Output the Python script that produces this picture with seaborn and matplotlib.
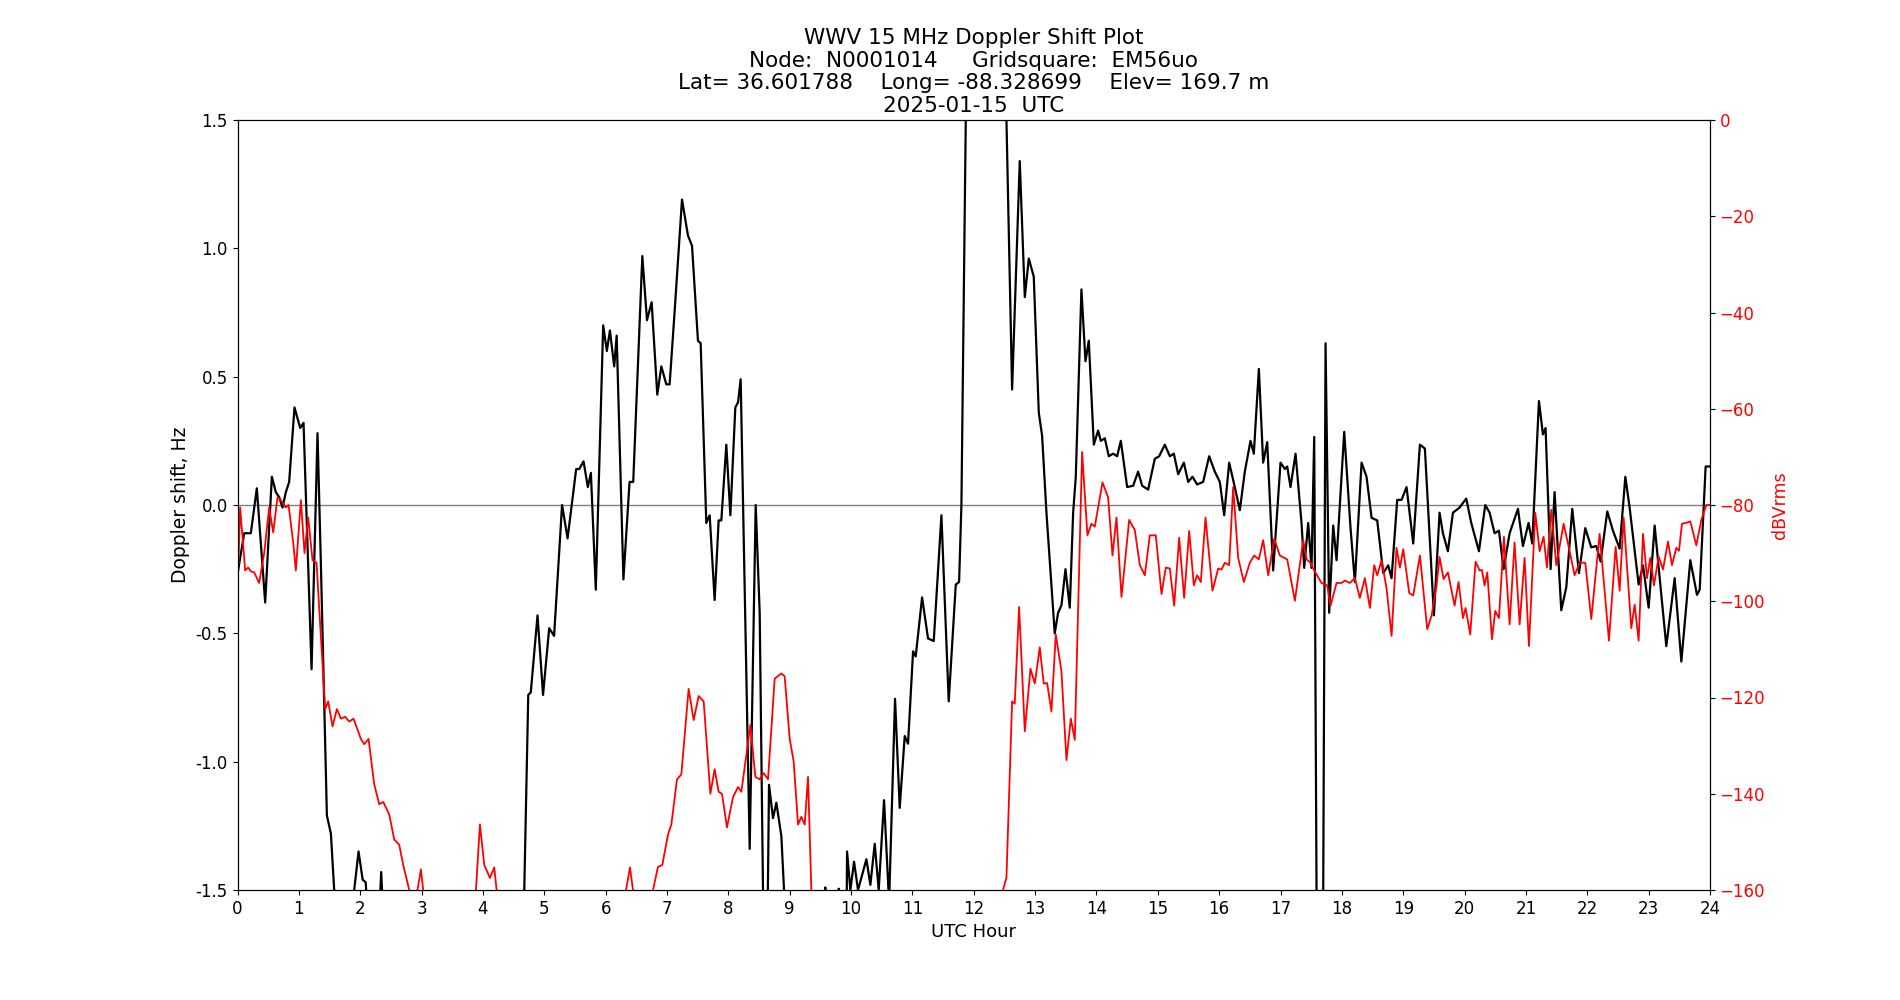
import matplotlib
matplotlib.use("Agg")
import matplotlib.pyplot as plt
import seaborn as sns
import numpy as np

# ---- Doppler shift (Hz) vs UTC hour ----
doppler_hours = [
    0.0, 0.109, 0.217, 0.315, 0.451, 0.56, 0.625, 0.68, 0.734, 0.788, 0.842, 0.929, 1.022, 1.076,
    1.207, 1.304, 1.359, 1.457, 1.522, 1.576, 1.65, 1.85, 1.902, 1.973, 2.04, 2.09, 2.12, 2.2,
    2.31, 2.342, 2.375, 2.45, 4.6, 4.674, 4.739, 4.78, 4.89, 4.98, 5.08, 5.16, 5.29, 5.38, 5.52,
    5.57, 5.64, 5.71, 5.76, 5.84, 5.96, 6.02, 6.07, 6.14, 6.18, 6.29, 6.39, 6.45, 6.598, 6.674,
    6.75, 6.842, 6.908, 6.989, 7.043, 7.125, 7.245, 7.342, 7.408, 7.505, 7.549, 7.641, 7.696,
    7.777, 7.842, 7.886, 7.967, 8.033, 8.114, 8.158, 8.201, 8.348, 8.446, 8.511, 8.565, 8.61,
    8.64, 8.663, 8.728, 8.783, 8.864, 8.908, 8.95, 9.55, 9.58, 9.61, 9.77, 9.8, 9.83, 9.9, 9.935,
    9.989, 10.049, 10.114, 10.25, 10.315, 10.386, 10.451, 10.538, 10.62, 10.717, 10.793, 10.875,
    10.929, 11.011, 11.054, 11.158, 11.255, 11.348, 11.473, 11.592, 11.707, 11.761, 11.799, 11.87,
    11.95, 12.45, 12.533, 12.625, 12.75, 12.832, 12.897, 12.978, 13.06, 13.114, 13.185, 13.32,
    13.375, 13.43, 13.495, 13.565, 13.62, 13.663, 13.755, 13.821, 13.875, 13.957, 14.027, 14.071,
    14.136, 14.201, 14.272, 14.337, 14.397, 14.5, 14.598, 14.679, 14.745, 14.842, 14.951, 15.022,
    15.114, 15.196, 15.261, 15.332, 15.424, 15.495, 15.565, 15.641, 15.739, 15.837, 15.929, 16.011,
    16.082, 16.163, 16.245, 16.337, 16.418, 16.511, 16.565, 16.647, 16.717, 16.783, 16.88, 17.0,
    17.07, 17.109, 17.163, 17.245, 17.342, 17.386, 17.451, 17.505, 17.549, 17.587, 17.62, 17.68,
    17.696, 17.734, 17.793, 17.859, 17.913, 18.038, 18.141, 18.212, 18.321, 18.402, 18.484, 18.576,
    18.674, 18.755, 18.81, 18.902, 18.973, 19.054, 19.163, 19.272, 19.353, 19.5, 19.592, 19.647,
    19.728, 19.81, 19.918, 20.027, 20.109, 20.234, 20.337, 20.408, 20.489, 20.56, 20.636, 20.734,
    20.87, 20.951, 21.043, 21.103, 21.212, 21.277, 21.32, 21.402, 21.467, 21.576, 21.658, 21.755,
    21.864, 21.967, 22.065, 22.147, 22.217, 22.326, 22.418, 22.527, 22.62, 22.69, 22.837, 22.908,
    23.0, 23.098, 23.18, 23.288, 23.424, 23.533, 23.679, 23.788, 23.832, 23.929, 24.0,
]
doppler_hz = [
    -0.27, -0.11, -0.11, 0.065, -0.38, 0.11, 0.05, 0.03, -0.01, 0.05, 0.09, 0.38, 0.30, 0.32,
    -0.64, 0.28, -0.23, -1.21, -1.28, -1.5, -2.5, -2.5, -1.5, -1.35, -1.46, -1.47, -1.6, -2.5,
    -1.6, -1.43, -1.6, -2.5, -2.5, -1.5, -0.74, -0.73, -0.43, -0.74, -0.48, -0.51, 0.0, -0.13, 0.14,
    0.14, 0.17, 0.07, 0.125, -0.33, 0.70, 0.60, 0.68, 0.54, 0.66, -0.29, 0.09, 0.09, 0.97, 0.72,
    0.79, 0.43, 0.54, 0.47, 0.47, 0.755, 1.19, 1.05, 1.01, 0.64, 0.63, -0.07, -0.04,
    -0.37, -0.06, -0.06, 0.235, -0.04, 0.38, 0.40, 0.49, -1.34, 0.0, -0.42, -1.5, -2.5,
    -1.6, -1.09, -1.22, -1.16, -1.29, -1.5, -2.5, -2.5, -1.49, -2.5, -2.5, -1.495, -2.5, -2.5, -1.35,
    -1.5, -1.39, -1.5, -1.38, -1.48, -1.32, -1.5, -1.15, -1.55, -0.755, -1.18, -0.90,
    -0.93, -0.57, -0.59, -0.36, -0.52, -0.53, -0.04, -0.765, -0.31, -0.30, 0.0, 1.5,
    2.5, 2.5, 1.5, 0.45, 1.34, 0.81, 0.96, 0.89, 0.36, 0.27, -0.03, -0.5,
    -0.42, -0.39, -0.25, -0.40, -0.03, 0.11, 0.84, 0.56, 0.64, 0.235, 0.29, 0.25,
    0.26, 0.19, 0.2, 0.19, 0.25, 0.07, 0.075, 0.13, 0.075, 0.06, 0.18, 0.19,
    0.235, 0.19, 0.20, 0.12, 0.165, 0.09, 0.11, 0.08, 0.09, 0.19, 0.13, 0.09,
    -0.04, 0.165, 0.08, -0.02, 0.13, 0.25, 0.2, 0.53, 0.165, 0.245, -0.255, 0.165,
    0.14, 0.15, 0.07, 0.2, -0.07, -0.245, -0.07, -0.245, 0.265, -1.5, -2.5, -2.5,
    -1.5, 0.63, -0.42, -0.08, -0.215, 0.285, -0.09, -0.30, 0.165, 0.11, -0.05, -0.06,
    -0.265, -0.235, -0.285, 0.02, 0.02, 0.07, -0.15, 0.235, 0.22, -0.43, -0.03, -0.11,
    -0.18, -0.03, -0.01, 0.025, -0.07, -0.18, 0.0, -0.03, -0.11, -0.1, -0.25, -0.11,
    -0.015, -0.16, -0.07, -0.15, 0.405, 0.275, 0.30, -0.25, 0.05, -0.41, -0.32, -0.015,
    -0.265, -0.09, -0.165, -0.16, -0.22, -0.025, -0.1, -0.17, 0.11, -0.01, -0.31, -0.235,
    -0.40, -0.08, -0.285, -0.55, -0.285, -0.61, -0.215, -0.35, -0.33, 0.15, 0.15,
]

# ---- Signal level (dBVrms) vs UTC hour ----
signal_hours = [
    0.016, 0.043, 0.125, 0.174, 0.217, 0.272, 0.353, 0.435, 0.516, 0.582, 0.652, 0.707, 0.788,
    0.832, 0.908, 0.951, 1.033, 1.092, 1.152, 1.223, 1.288, 1.429, 1.478, 1.549, 1.62, 1.685,
    1.755, 1.821, 1.891, 2.011, 2.065, 2.136, 2.228, 2.31, 2.375, 2.473, 2.554, 2.636, 2.701,
    2.799, 2.908, 2.989, 3.043, 3.15, 3.8, 3.886, 3.951, 4.022, 4.114, 4.185, 4.239, 4.33, 6.25,
    6.332, 6.397, 6.467, 6.55, 6.7, 6.772, 6.853, 6.924, 7.016, 7.071, 7.163, 7.234, 7.353, 7.435,
    7.516, 7.598, 7.707, 7.777, 7.842, 7.897, 7.978, 8.076, 8.158, 8.212, 8.359, 8.44, 8.511,
    8.576, 8.647, 8.755, 8.864, 8.918, 9.0, 9.065, 9.136, 9.19, 9.245, 9.299, 9.353, 9.4, 12.4,
    12.478, 12.533, 12.625, 12.668, 12.739, 12.832, 12.924, 12.995, 13.076, 13.141, 13.196, 13.266,
    13.337, 13.429, 13.511, 13.582, 13.647, 13.766, 13.853, 13.918, 13.973, 14.098, 14.19, 14.261,
    14.326, 14.408, 14.533, 14.625, 14.707, 14.788, 14.87, 14.967, 15.06, 15.13, 15.196, 15.266,
    15.348, 15.429, 15.511, 15.587, 15.641, 15.701, 15.777, 15.891, 15.984, 16.038, 16.092, 16.163,
    16.228, 16.31, 16.402, 16.5, 16.571, 16.647, 16.717, 16.799, 16.897, 16.989, 17.109, 17.234,
    17.37, 17.424, 17.489, 17.549, 17.668, 17.761, 17.815, 17.913, 17.995, 18.049, 18.13, 18.212,
    18.293, 18.375, 18.457, 18.527, 18.576, 18.647, 18.728, 18.81, 18.891, 18.946, 19.0, 19.098,
    19.163, 19.272, 19.391, 19.462, 19.543, 19.592, 19.658, 19.728, 19.837, 19.902, 19.973, 20.016,
    20.092, 20.179, 20.245, 20.283, 20.326, 20.37, 20.446, 20.5, 20.56, 20.641, 20.734, 20.815,
    20.897, 20.978, 21.049, 21.152, 21.223, 21.288, 21.342, 21.413, 21.495, 21.614, 21.685, 21.793,
    21.875, 21.967, 22.065, 22.201, 22.353, 22.462, 22.527, 22.592, 22.717, 22.772, 22.837, 22.908,
    22.973, 23.027, 23.087, 23.163, 23.234, 23.315, 23.38, 23.451, 23.495, 23.543, 23.614, 23.679,
    23.777, 23.859, 23.94, 24.0,
]
signal_dbv = [
    -92, -80.5, -93.6, -93, -93.8, -94, -96.2, -90, -80.5, -85.7, -78.4, -79, -80.5,
    -80, -87.8, -93.6, -79, -90, -82.6, -91.5, -92, -122.4, -120.8, -126, -122.4, -124.4,
    -124, -125, -124.4, -128.6, -129.7, -128.6, -138, -142.2, -141.7, -144.3, -149.5, -150.6, -154.8,
    -160, -162, -155.7, -162, -170, -170, -160, -146.4, -154.8, -157.5, -155.3, -162, -170, -170,
    -160, -155.3, -162, -170, -170, -160, -155.2, -154.8, -148.5, -146.4, -137, -136, -118.2, -124.7,
    -119.7, -120.8, -140, -134.9, -139.6, -140, -147, -140.7, -138.6, -139.6, -125.7, -136.5, -137,
    -135.7, -137, -116.1, -115, -115.6, -128.6, -133.3, -146.4, -144.8, -146.4, -136.5, -160, -170, -170,
    -160, -157.4, -120.8, -121.3, -101.2, -127, -114, -117.1, -109.6, -117.1, -117, -122.9,
    -106.9, -114.5, -133, -124.4, -128.8, -69, -86.3, -83.9, -84.5, -75.3, -78.4, -90.5,
    -82.6, -99.1, -83.1, -85.2, -92.5, -94.6, -86.3, -86.3, -98.5, -93, -93.2, -100.9,
    -86.8, -99.3, -85.4, -96.7, -94.6, -96, -82.6, -97.8, -93.2, -93.4, -92, -92.5,
    -76.3, -91, -96, -92, -90.5, -91.3, -87.3, -94.6, -87, -90.5, -91.3, -99.9,
    -87.3, -91.3, -92, -93.6, -96.2, -96.7, -100.9, -96.2, -96.2, -95.7, -96.2, -95.2,
    -99.3, -95.2, -101.4, -92.5, -94.6, -91.5, -97.3, -107.2, -88.9, -93, -89.2, -98.3,
    -98.8, -90.5, -105.8, -103, -96.7, -90.8, -95.4, -94, -100.9, -96, -103.5, -101.4,
    -106.9, -91.8, -93.6, -93.5, -96.7, -94, -107.9, -102, -103.5, -86.6, -104.8, -87.8,
    -104.8, -91, -109.3, -81.6, -89.6, -86.6, -93, -81, -92.5, -83.9, -88, -94.6,
    -92, -92, -103.7, -86, -108.2, -88.7, -97.8, -82.6, -105.6, -100.7, -108.2, -86,
    -95.2, -91, -96.7, -90.7, -93.4, -87.6, -92.5, -88.9, -89.5, -83.9, -83.7, -83.4,
    -88.4, -83.1, -80, -80,
]

x_ticks = list(range(0, 25))
doppler_ticks = [-1.5, -1.0, -0.5, 0.0, 0.5, 1.0, 1.5]
dbv_ticks = [0, -20, -40, -60, -80, -100, -120, -140, -160]

title_text = ("WWV 15 MHz Doppler Shift Plot\n"
              "Node:  N0001014     Gridsquare:  EM56uo\n"
              "Lat= 36.601788    Long= -88.328699    Elev= 169.7 m\n"
              "2025-01-15  UTC")

plt.rcParams['font.family'] = ['DejaVu Sans']
fig, ax = plt.subplots(figsize=(19, 10), dpi=100)

ax.axhline(0, color='gray', linewidth=1, zorder=1)
sns.lineplot(x=doppler_hours, y=doppler_hz, ax=ax, color='black', linewidth=1.6,
             estimator=None, sort=False, zorder=2)
ax.set_xlim(0, 24)
ax.set_ylim(-1.5, 1.5)
ax.set_xticks(x_ticks)
ax.set_xticklabels([str(t) for t in x_ticks])
ax.set_yticks(doppler_ticks)
ax.set_yticklabels([f"{t:.1f}" for t in doppler_ticks])
ax.set_xlabel('UTC Hour', fontsize=13)
ax.set_ylabel('Doppler shift, Hz', fontsize=13.5)
ax.tick_params(labelsize=12)
ax.set_title(title_text, fontsize=15.5, linespacing=1.15)

ax2 = ax.twinx()
sns.lineplot(x=signal_hours, y=signal_dbv, ax=ax2, color='red', linewidth=1.3,
             estimator=None, sort=False)
ax2.set_ylim(-160, 0)
ax2.set_yticks(dbv_ticks)
ax2.set_ylabel('dBVrms', color='red', fontsize=12.5)
ax2.tick_params(axis='y', labelcolor='red', labelsize=12)
ax2.set_xlim(0, 24)

fig.savefig('out.png', dpi=100)
